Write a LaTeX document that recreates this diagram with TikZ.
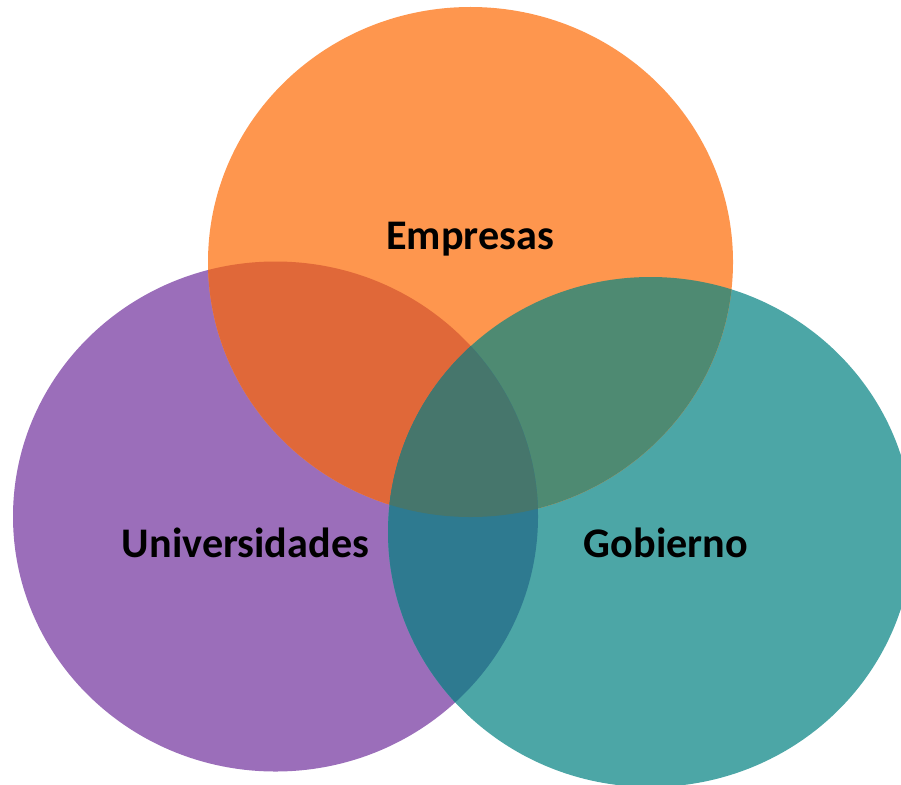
\documentclass[tikz,border=0pt]{standalone}
\usepackage{fontspec}
\setmainfont{Carlito}
\usepackage{tikz}
\definecolor{empresascolor}{RGB}{254, 150, 78}
\definecolor{univcolor}{RGB}{155, 110, 186}
\definecolor{gobcolor}{RGB}{76, 166, 166}
\definecolor{empunivcolor}{RGB}{224, 104, 57}
\definecolor{empgobcolor}{RGB}{78, 138, 114}
\definecolor{univgobcolor}{RGB}{46, 122, 144}
\definecolor{allcolor}{RGB}{70, 118, 108}

\begin{document}
\begin{tikzpicture}[x=0.02cm, y=-0.02cm,
    lbl/.style={font=\bfseries\fontsize{24}{28}\selectfont, inner sep=0pt, anchor=base}]
    \useasboundingbox (0,0) rectangle (901,784);
    \clip (0,0) rectangle (901,784);

    % Circles
    \fill[univcolor] (275.5,516.5) ellipse [x radius=262.5, y radius=255];
    \fill[gobcolor] (650.5,532) ellipse [x radius=262.5, y radius=255];
    \fill[empresascolor] (470.5,262) ellipse [x radius=262.5, y radius=255];

    % Overlaps
    \begin{scope}
      \clip (470.5,262) ellipse [x radius=262.5, y radius=255];
      \fill[empunivcolor] (275.5,516.5) ellipse [x radius=262.5, y radius=255];
      \fill[empgobcolor] (650.5,532) ellipse [x radius=262.5, y radius=255];
    \end{scope}
    \begin{scope}
      \clip (275.5,516.5) ellipse [x radius=262.5, y radius=255];
      \fill[univgobcolor] (650.5,532) ellipse [x radius=262.5, y radius=255];
      \clip (650.5,532) ellipse [x radius=262.5, y radius=255];
      \fill[allcolor] (470.5,262) ellipse [x radius=262.5, y radius=255];
    \end{scope}

    % Labels
    \node[lbl] (empresas) at (470,249) {Empresas};
    \node[lbl] (universidades) at (245.5,557) {Universidades};
    \node[lbl] (gobierno) at (666,557) {Gobierno};
\end{tikzpicture}
\end{document}
